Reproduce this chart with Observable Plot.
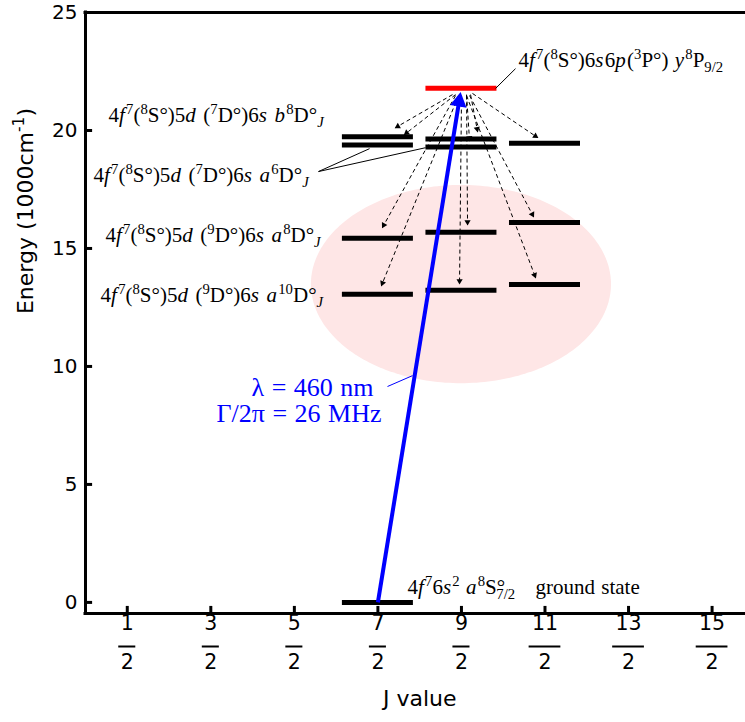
<!DOCTYPE html>
<html><head><meta charset="utf-8">
<script src="https://cdn.jsdelivr.net/npm/d3@7"></script>
<script src="https://cdn.jsdelivr.net/npm/@observablehq/plot@0.6"></script>
<style>html,body{margin:0;padding:0;background:#fff;overflow:hidden}svg{display:block}</style>
</head><body><div id="chart"></div>
<script>
// ---------- data ----------
const jTicks = [0.5, 1.5, 2.5, 3.5, 4.5, 5.5, 6.5, 7.5];
const jNum = ["1", "3", "5", "7", "9", "11", "13", "15"];
const jDen = ["2", "2", "2", "2", "2", "2", "2", "2"];
const yTicks = [0, 5, 10, 15, 20, 25];

// lower levels (J, energy in 1000 cm^-1)
const levelTerm = ["ground", "a10D", "a10D", "a10D", "a8D", "a8D", "a8D", "a6D", "a6D", "b8D", "b8D", "b8D"];
const levelJ = [3.5, 3.5, 4.5, 5.5, 3.5, 4.5, 5.5, 3.5, 4.5, 3.5, 4.5, 5.5];
const levelE = [0, 13.06, 13.23, 13.47, 15.43, 15.69, 16.10, 19.39, 19.30, 19.73, 19.64, 19.46];
// upper level y8P9/2
const upperJ = [4.5];
const upperE = [21.79];

// laser excitation (ground -> upper)
const laserFromJ = [3.5], laserFromE = [0], laserToJ = [4.489], laserToE = [21.6];

// decay arrows (dashed)
const decayFromJ = [4.393, 4.429, 4.429, 4.465, 4.609, 4.561, 4.561, 4.501, 4.632, 4.597, 4.561];
const decayFromE = [21.52, 21.52, 21.48, 21.48, 21.52, 21.52, 21.48, 21.48, 21.57, 21.48, 21.48];
const decayToJ   = [3.711, 3.819, 3.555, 3.543, 4.693, 4.597, 4.573, 4.477, 5.411, 5.363, 5.387];
const decayToE   = [20.12, 19.83, 15.89, 13.43, 19.96, 19.57, 16.01, 13.51, 19.70, 16.35, 13.77];

// highlighted region (ellipse): center J, center E, radius J, radius E
const regionC = [4.5, 13.47], regionR = [1.796, 4.2];

// leader lines
const leadX1 = [2.789, 2.789, 4.908, 3.615];
const leadY1 = [18.26, 18.26, 21.78, 9.15];
const leadX2 = [3.40, 4.07, 5.147, 3.914];
const leadY2 = [19.23, 19.27, 22.62, 9.61];
const leadColor = ["#000", "#000", "#000", "#0000ff"];

// term labels (markup: <i>, <sup>, <sub>)
const termLabels = [
  "4<i>f</i><sup>7</sup>(<sup>8</sup>S°)5<i>d</i> (<sup>7</sup>D°)6<i>s</i> <i>b</i><sup>8</sup>D°<sub><i>J</i></sub>",
  "4<i>f</i><sup>7</sup>(<sup>8</sup>S°)5<i>d</i> (<sup>7</sup>D°)6<i>s</i> <i>a</i><sup>6</sup>D°<sub><i>J</i></sub>",
  "4<i>f</i><sup>7</sup>(<sup>8</sup>S°)5<i>d</i> (<sup>9</sup>D°)6<i>s</i> <i>a</i><sup>8</sup>D°<sub><i>J</i></sub>",
  "4<i>f</i><sup>7</sup>(<sup>8</sup>S°)5<i>d</i> (<sup>9</sup>D°)6<i>s</i> <i>a</i><sup>10</sup>D°<sub><i>J</i></sub>",
  "4<i>f</i><sup>7</sup>(<sup>8</sup>S°)6<i>s</i>6<i>p</i>(<sup>3</sup>P°) <i>y</i><sup>8</sup>P<sub>9/2</sub>",
  "4<i>f</i><sup>7</sup>6<i>s</i><sup>2</sup> <i>a</i><sup>8</sup>S°<sub dx=\"-0.42\">7/2</sub>",
  "ground state"
];
const termLabelJ = [0.275, 0.096, 0.239, 0.18, 5.183, 3.854, 5.387];
const termLabelE = [20.63, 18.09, 15.55, 13.0, 22.96, 0.63, 0.63];

const laserLabels = ["λ = 460 nm", "Γ/2π = 26 MHz"];
const laserLabelJ = [3.448, 3.543];
const laserLabelE = [9.11, 8.0];

const xLabel = "J value";
const yLabel = "Energy (1000cm<sup>-1</sup>)";

// ---------- layout ----------
const W = 745, H = 722, mL = 85, mR = 0, mT = 12, mB = 109;
const xDom = [0, 7.9], yDom = [-0.47, 25];
const kx = (W - mL - mR) / (xDom[1] - xDom[0]);
const ky = (H - mT - mB) / (yDom[1] - yDom[0]);

function head(x1, y1, x2, y2, back) {
  const dxp = (x2 - x1) * kx, dyp = -(y2 - y1) * ky;
  const L = Math.hypot(dxp, dyp);
  return {
    x: x2 - back * dxp / L / kx,
    y: y2 + back * dyp / L / ky,
    rot: Math.atan2(dxp, -dyp) * 180 / Math.PI
  };
}

const levels = levelJ.map((J, i) => ({J, E: levelE[i], term: levelTerm[i]}));
const upper = upperJ.map((J, i) => ({J, E: upperE[i]}));
const decays = decayFromJ.map((x1, i) => {
  const h = head(x1, decayFromE[i], decayToJ[i], decayToE[i], 2.6);
  return {x1, y1: decayFromE[i], x2: decayToJ[i], y2: decayToE[i], hx: h.x, hy: h.y, rot: h.rot};
});
const laser = laserFromJ.map((x1, i) => {
  const h = head(x1, laserFromE[i], laserToJ[i], laserToE[i], 9);
  const s = head(x1, laserFromE[i], laserToJ[i], laserToE[i], 11);
  return {x1, y1: laserFromE[i], x2: s.x, y2: s.y, hx: h.x, hy: h.y, rot: h.rot};
});
const region = d3.range(0, 121).map(k => {
  const t = Math.PI - Math.PI * k / 120;
  return {x: regionC[0] + regionR[0] * Math.cos(t),
          lo: regionC[1] - regionR[1] * Math.sin(t),
          hi: regionC[1] + regionR[1] * Math.sin(t)};
});
const leads = leadX1.map((x1, i) => ({x1, y1: leadY1[i], x2: leadX2[i], y2: leadY2[i], c: leadColor[i]}));
const terms = termLabels.map((t, i) => ({t, J: termLabelJ[i], E: termLabelE[i]}));
const laserTxt = laserLabels.map((t, i) => ({t, J: laserLabelJ[i], E: laserLabelE[i]}));
const fracs = jTicks.map((v, i) => ({v, num: jNum[i], den: jDen[i]}));

const SERIF = "'Liberation Serif', 'DejaVu Serif', serif";
const SANS = "'DejaVu Sans', Verdana, sans-serif";
const halfBar = 0.425;

const plot = Plot.plot({
  width: W, height: H,
  marginLeft: mL, marginRight: mR, marginTop: mT, marginBottom: mB,
  x: {domain: xDom, axis: null},
  y: {domain: yDom, axis: null},
  style: {fontFamily: SANS, background: "#fff", overflow: "visible"},
  marks: [
    Plot.areaY(region, {x: "x", y1: "lo", y2: "hi", fill: "#fee6e6", curve: "linear"}),
    // frame (left, bottom, top)
    Plot.ruleX([xDom[0]], {stroke: "#000", strokeWidth: 3, strokeLinecap: "square"}),
    Plot.ruleY([yDom[0], yDom[1]], {stroke: "#000", strokeWidth: 3, strokeLinecap: "square"}),
    // ticks (inward)
    Plot.ruleY(yTicks, {y: d => d, x1: xDom[0], x2: xDom[0] + 0.085, strokeWidth: 3}),
    Plot.ruleX(jTicks, {x: d => d, y1: yDom[0], y2: yDom[0] + 0.3, strokeWidth: 3}),
    // y tick labels
    Plot.text(yTicks, {y: d => d, text: d => String(d), frameAnchor: "left", textAnchor: "end", dx: -8, fontSize: 20, fontFamily: SANS}),
    // x tick labels as fractions
    Plot.text(fracs, {x: "v", text: "num", frameAnchor: "bottom", dy: 16.5, fontSize: 20.5, fontFamily: SANS}),
    Plot.ruleY(fracs, {y: () => yDom[0], x1: d => d.v - (d.num.length > 1 ? 0.19 : 0.102), x2: d => d.v + (d.num.length > 1 ? 0.19 : 0.102), dy: 33, strokeWidth: 2}),
    Plot.text(fracs, {x: "v", text: "den", frameAnchor: "bottom", dy: 55, fontSize: 20.5, fontFamily: SANS}),
    // axis titles
    Plot.text([xLabel], {x: () => 4, text: d => d, frameAnchor: "bottom", dy: 92, fontSize: 22, fontFamily: SANS}),
    Plot.text([yLabel], {y: () => 12.22, text: d => d, frameAnchor: "left", dx: -60, rotate: -90, fontSize: 22, fontFamily: SANS}),
    // levels
    Plot.ruleY(levels, {y: "E", x1: d => d.J - halfBar, x2: d => d.J + halfBar, stroke: "#000", strokeWidth: 5}),
    Plot.ruleY(upper, {y: "E", x1: d => d.J - halfBar, x2: d => d.J + halfBar, stroke: "#ff0000", strokeWidth: 5}),
    // decay arrows
    Plot.link(decays, {x1: "x1", y1: "y1", x2: "x2", y2: "y2", stroke: "#000", strokeWidth: 1, strokeDasharray: "4,3"}),
    Plot.dot(decays, {x: "hx", y: "hy", rotate: "rot", symbol: "triangle", r: 2.3, fill: "#000", stroke: "none"}),
    // laser arrow
    Plot.link(laser, {x1: "x1", y1: "y1", x2: "x2", y2: "y2", stroke: "#0000ff", strokeWidth: 4}),
    Plot.dot(laser, {x: "hx", y: "hy", rotate: "rot", symbol: "triangle", r: 6.2, fill: "#0000ff", stroke: "none"}),
    // leader lines
    Plot.link(leads, {x1: "x1", y1: "y1", x2: "x2", y2: "y2", stroke: "c", strokeWidth: 1}),
    // labels
    Plot.text(terms, {x: "J", y: "E", text: "t", textAnchor: "start", fontSize: 21, fontFamily: SERIF}),
    Plot.text(laserTxt, {x: "J", y: "E", text: "t", textAnchor: "end", fontSize: 26, fontFamily: SERIF, fill: "#0000ff"})
  ]
});
document.getElementById("chart").appendChild(plot);

// slightly wider word spacing on serif labels (LaTeX-like)
plot.querySelectorAll("text").forEach(t => {
  const ff = getComputedStyle(t).fontFamily || "";
  if (ff.indexOf("Liberation Serif") >= 0) t.style.wordSpacing = "1px";
});

// rich text: turn simple markup into tspans
function richify(svg) {
  svg.querySelectorAll("text").forEach(t => {
    const s = t.textContent;
    if (s.indexOf("<") < 0) return;
    const base = parseFloat(getComputedStyle(t).fontSize) || 16;
    const div = document.createElement("div");
    div.innerHTML = s;
    while (t.firstChild) t.removeChild(t.firstChild);
    t.style.whiteSpace = "pre";
    let cur = 0, pendingDx = 0, prevItalic = false;
    const NS = "http://www.w3.org/2000/svg";
    function walk(node, st) {
      node.childNodes.forEach(n => {
        if (n.nodeType === 3) {
          const ts = document.createElementNS(NS, "tspan");
          ts.textContent = n.textContent;
          if (st.italic) ts.setAttribute("font-style", "italic");
          if (st.scale !== 1) ts.setAttribute("font-size", (base * st.scale).toFixed(2));
          const d = st.shift - cur;
          if (Math.abs(d) > 0.01) ts.setAttribute("dy", d.toFixed(2));
          let dx = pendingDx * base;
          if (prevItalic && !st.italic) dx += 0.06 * base;
          if (Math.abs(dx) > 0.01) ts.setAttribute("dx", dx.toFixed(2));
          pendingDx = 0;
          cur = st.shift;
          prevItalic = st.italic;
          t.appendChild(ts);
        } else if (n.nodeType === 1) {
          const tag = n.tagName.toLowerCase();
          const ns = Object.assign({}, st);
          if (tag === "i") ns.italic = true;
          if (tag === "sup") { ns.shift = st.shift - 0.38 * base * st.scale; ns.scale = st.scale * 0.7; }
          if (tag === "sub") { ns.shift = st.shift + 0.22 * base * st.scale; ns.scale = st.scale * 0.7; }
          if (n.getAttribute && n.getAttribute("dx")) pendingDx = parseFloat(n.getAttribute("dx"));
          walk(n, ns);
        }
      });
    }
    walk(div, {italic: false, shift: 0, scale: 1});
  });
}
richify(plot);
</script>
</body></html>
